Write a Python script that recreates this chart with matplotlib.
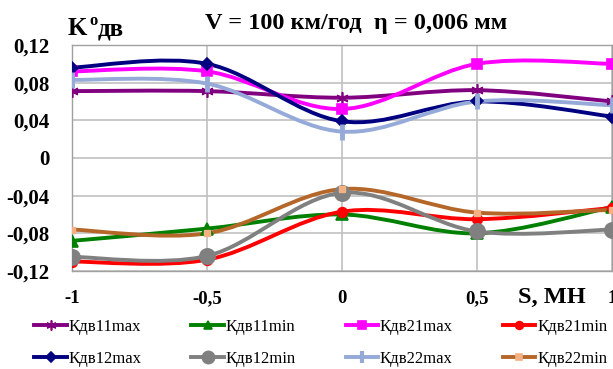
import matplotlib
matplotlib.use('Agg')
import matplotlib.pyplot as plt
from matplotlib.path import Path
from matplotlib.patches import PathPatch
from matplotlib.lines import Line2D

plt.rcParams['font.family'] = ['Liberation Serif', 'DejaVu Serif']

s = [-1, -0.5, 0, 0.5, 1]

k11max = [0.071, 0.071, 0.064, 0.072, 0.060]
k11min = [-0.088, -0.075, -0.060, -0.080, -0.052]
k21max = [0.092, 0.092, 0.052, 0.100, 0.100]
k21min = [-0.110, -0.108, -0.057, -0.065, -0.053]
k12max = [0.096, 0.100, 0.039, 0.060, 0.044]
k12min = [-0.105, -0.104, -0.037, -0.078, -0.076]
k22max = [0.083, 0.079, 0.028, 0.060, 0.056]
k22min = [-0.076, -0.080, -0.033, -0.058, -0.055]

y_ticks = [-0.12, -0.08, -0.04, 0, 0.04, 0.08, 0.12]
y_labels = ['-0,12', '-0,08', '-0,04', '0', '0,04', '0,08', '0,12']
x_ticks = [-1, -0.5, 0, 0.5, 1]
x_labels = ['-1', '-0,5', '0', '0,5', '1']

# name, values, color, marker, marker size, marker face colour
series = [
    ('Кдв11max', k11max, '#800080', (6, 2, 0), 9, '#800080'),
    ('Кдв11min', k11min, '#008000', '^', 8, '#008000'),
    ('Кдв21max', k21max, '#ff00ff', 's', 7, '#ff00ff'),
    ('Кдв21min', k21min, '#ff0000', 'o', 7, '#ff0000'),
    ('Кдв12max', k12max, '#000080', 'D', 6, '#000080'),
    ('Кдв12min', k12min, '#808080', 'o', 11, '#808080'),
    ('Кдв22max', k22max, '#95aad8', '|', 11, '#95aad8'),
    ('Кдв22min', k22min, '#b5672a', 's', 5, '#f4b183'),
]


def smooth_path(x, y):
    # excel-like smoothed line: bezier segments through the points
    pts = list(zip(x, y))
    verts = [pts[0]]
    codes = [Path.MOVETO]
    n = len(pts)
    for i in range(n - 1):
        p0 = pts[i - 1] if i > 0 else pts[i]
        p1 = pts[i]
        p2 = pts[i + 1]
        p3 = pts[i + 2] if i + 2 < n else pts[i + 1]
        c1 = (p1[0] + (p2[0] - p0[0]) / 6, p1[1] + (p2[1] - p0[1]) / 6)
        c2 = (p2[0] - (p3[0] - p1[0]) / 6, p2[1] - (p3[1] - p1[1]) / 6)
        verts += [c1, c2, p2]
        codes += [Path.CURVE4] * 3
    return Path(verts, codes)


fig = plt.figure(figsize=(6.13, 3.69), dpi=100)
ax = fig.add_axes([0.1175, 0.2656, 0.881, 0.6125])

handles = []
for name, vals, col, mk, ms, mfc in series:
    ax.add_patch(PathPatch(smooth_path(s, vals), facecolor='none',
                           edgecolor=col, lw=2.8, capstyle='round',
                           joinstyle='round', zorder=3))
    if mk == '|':
        ax.plot(s, vals, linestyle='none', marker=mk, ms=ms, mew=3.5,
                color=col, zorder=4)
    elif mfc != col:
        ax.plot(s, vals, linestyle='none', marker=mk, ms=ms, mfc=mfc,
                mec=mfc, color=col, zorder=4)
    else:
        ax.plot(s, vals, linestyle='none', marker=mk, ms=ms, color=col,
                mew=1.2, zorder=4)
    handles.append(Line2D([], [], color=col, lw=2.8, marker=mk,
                          ms=ms * 0.8, mfc=mfc, mec=mfc,
                          mew=3 if mk == '|' else 1.2, label=name))

ax.set_xlim(-1, 1)
ax.set_ylim(-0.12, 0.12)
ax.set_yticks(y_ticks)
ax.set_yticklabels(y_labels)
ax.set_xticks(x_ticks)
ax.set_xticklabels(x_labels)
ax.tick_params(axis='y', length=0, labelsize=15, pad=16)
ax.tick_params(axis='x', length=0, labelsize=13.5, pad=14)
for lab in ax.get_xticklabels() + ax.get_yticklabels():
    lab.set_fontweight('bold')
ax.grid(True, color='#c0c0c0', lw=1.2)
ax.set_axisbelow(True)
for sp in ax.spines.values():
    sp.set_color('#a0a0a0')
    sp.set_linewidth(1)

fig.text(0.111, 0.905, 'K', fontsize=18, fontweight='bold', va='baseline')
fig.text(0.145, 0.933, 'о', fontsize=12, fontweight='bold', va='baseline')
fig.text(0.159, 0.905, 'дв', fontsize=18, fontweight='bold', va='baseline')
fig.text(0.581, 0.921, 'V = 100 км/год  η = 0,006 мм', fontsize=17.5,
         fontweight='bold', ha='center', va='baseline')
fig.text(0.845, 0.178, 'S, MH', fontsize=17.5, fontweight='bold',
         ha='left', va='baseline')

# legend fills by column, so interleave to get the reference's rows
leg_order = [0, 4, 1, 5, 2, 6, 3, 7]
fig.legend(handles=[handles[i] for i in leg_order],
           ncol=4, loc='lower left', bbox_to_anchor=(0.045, -0.013),
           frameon=False, fontsize=12, handlelength=1.95,
           handletextpad=0.1, columnspacing=3.0, labelspacing=0.95,
           borderaxespad=0)

fig.savefig('out.png', dpi=100)
